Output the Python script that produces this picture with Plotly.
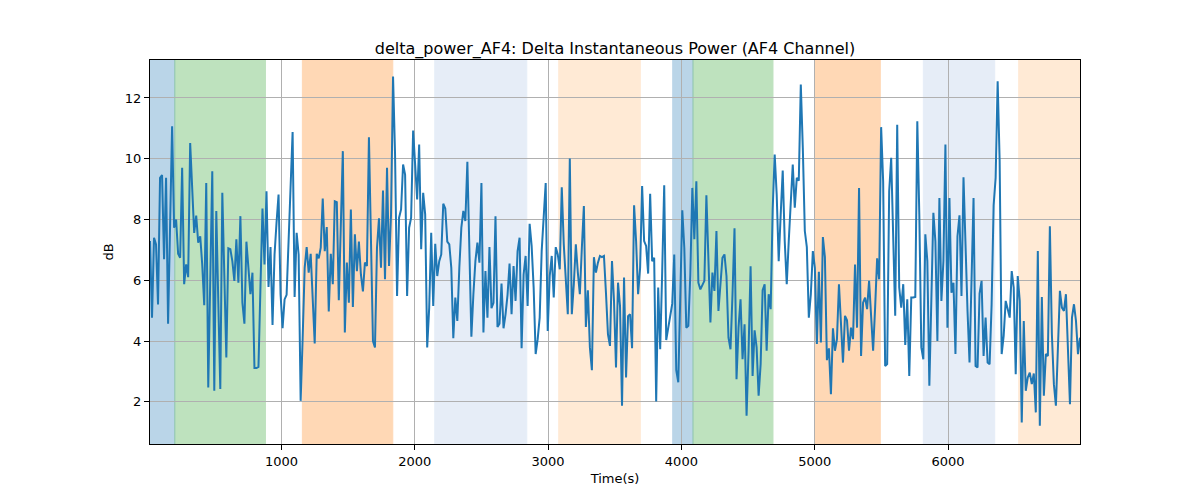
import numpy as np
import plotly.graph_objects as go

title = "delta_power_AF4: Delta Instantaneous Power (AF4 Channel)"
t_start, t_end = 14, 6990

values = [
    # segment 1
    7.29, 4.77, 7.4, 7.18, 5.2, 9.37, 9.46, 6.69, 9.37, 4.57, 7.8, 11.07, 7.73, 8.0, 6.87, 6.74, 9.7, 5.87,
    6.52, 6.1, 10.52, 9.0, 7.56, 8.13, 7.24, 7.45, 6.52, 5.18, 9.2, 2.47, 6.0, 9.59, 2.36, 8.28, 5.3, 2.42,
    # segment 2
    8.88, 6.0, 3.46, 7.05, 7.02, 6.63, 5.98, 7.35, 5.92, 8.11, 5.26, 4.57, 7.27, 6.41, 5.54, 6.25, 3.11, 3.11,
    3.15, 5.8, 8.36, 6.52, 8.93, 5.78, 7.09, 4.53, 6.85, 7.9, 8.82, 5.54, 4.42, 5.37, 5.52, 7.3, 9.1, 10.88,
    5.45, 7.56, 6.85,
    # segment 3
    2.03, 4.11, 6.41, 7.09, 6.25, 6.87, 5.54, 3.92, 6.87, 6.72, 7.07, 8.69, 6.96, 7.75, 4.97, 6.87, 5.87, 8.6,
    8.57, 5.34, 7.8, 10.25, 4.28, 6.58, 5.26, 8.33, 5.12, 7.51, 6.3, 7.27, 6.19, 5.63, 6.58, 6.47, 10.71, 7.73,
    4.0, 3.79, 7.07,
    # segment 4
    8.04, 6.41, 8.95, 6.03, 9.7, 6.47, 8.17, 12.71, 10.14, 5.48, 8.06, 8.33, 9.81, 9.48, 5.48, 7.73, 8.06, 10.93,
    9.81, 8.66, 10.47, 7.02, 8.88, 8.17, 3.79, 5.1, 7.56, 5.15, 7.2, 6.14, 6.63, 6.85, 8.52, 8.36, 7.27, 7.18,
    6.41, 4.09, 5.43,
    # segment 5
    4.66, 6.41, 7.73, 8.28, 7.95, 9.9, 6.74, 4.14, 5.54, 6.63, 7.24, 6.58, 9.2, 4.28, 6.3, 4.77, 7.09, 5.08,
    5.26, 8.11, 4.46, 4.57, 5.89, 4.42, 4.88, 5.52, 6.55, 4.88, 6.47, 5.32, 6.96, 7.4, 3.76, 6.19, 6.8, 5.15,
    7.86, 7.13, 5.76,
    # segment 6
    3.57, 4.06, 4.77, 6.96, 7.95, 9.2, 4.33, 6.14, 6.8, 5.43, 7.09, 6.85, 6.36, 9.06, 7.18, 5.98, 4.88, 10.01,
    4.88, 5.87, 7.18, 6.25, 5.54, 7.07, 8.44, 4.46, 5.67, 3.79, 3.04, 6.76, 6.25, 6.58, 6.8, 6.76, 6.8, 5.59,
    4.22, 3.84, 6.63,
    # segment 7
    5.32, 3.13, 5.92, 5.15, 1.87, 6.09, 2.8, 4.82, 4.88, 3.76, 8.47, 7.29, 5.54, 6.41, 9.1, 7.29, 7.13, 6.22,
    8.85, 6.63, 6.74, 2.01, 5.76, 3.73, 6.3, 9.13, 4.03, 4.44, 4.72, 5.23, 6.85, 3.04, 2.64, 5.54, 8.3, 7.07,
    4.44, 4.5, 6.19,
    # segment 8
    9.04, 7.35, 9.26, 5.92, 5.7, 5.87, 5.98, 8.8, 6.96, 4.61, 6.25, 5.65, 7.62, 4.99, 5.87, 6.74, 6.85, 6.14,
    4.11, 3.73, 5.54, 7.71, 2.74, 4.44, 5.37, 3.4, 4.55, 1.54, 3.68, 6.46, 2.85, 4.35, 3.79, 2.2, 3.24, 5.67,
    5.87, 3.68, 5.54,
    # segment 9
    5.05, 8.33, 10.14, 8.82, 6.63, 8.17, 9.61, 7.29, 5.87, 7.29, 8.6, 9.81, 8.39, 9.37, 9.28, 12.44, 10.36, 7.62,
    7.09, 4.77, 5.54, 6.96, 6.41, 3.9, 6.28, 3.95, 7.42, 6.76, 3.37, 3.76, 2.25, 4.42, 3.68, 4.06, 5.87, 4.66,
    3.29, 4.83, 4.68,
    # segment 10
    3.68, 4.44, 4.06, 6.52, 4.44, 9.04, 3.51, 5.26, 5.43, 5.05, 5.98, 4.99, 3.68, 5.1, 6.72, 6.03, 11.04, 9.26,
    3.18, 3.24, 8.93, 10.03, 6.85, 4.83, 11.12, 5.76, 5.1, 5.87, 3.87, 5.37, 2.85, 5.43, 5.43, 5.45, 11.23, 8.17,
    3.79, 3.4, 7.51,
    # segment 11
    6.63, 2.53, 5.54, 8.22, 7.29, 4.0, 8.71, 5.32, 6.63, 10.47, 4.44, 8.71, 5.59, 5.92, 3.57, 7.45, 8.14, 5.48,
    9.39, 6.74, 4.99, 3.29, 5.98, 8.71, 3.18, 3.13, 5.56, 5.98, 3.51, 4.77, 3.29, 3.24, 5.21, 8.47, 9.37, 12.55,
    9.92, 3.57, 4.17,
    # segment 12
    5.32, 5.05, 4.77, 6.3, 5.76, 2.91, 6.14, 5.32, 1.32, 4.66, 2.36, 2.8, 2.96, 2.58, 2.93, 1.65, 6.96, 1.21,
    5.45, 2.2, 3.57, 3.51, 7.78, 4.22, 2.58, 1.87, 3.79, 5.65, 5.1, 4.99, 5.54, 3.9, 1.92, 4.77, 5.21, 4.66,
    3.57, 4.11,
]
times = np.linspace(t_start, t_end, len(values))

# shaded intervals: (start, end, color, alpha)
span_starts = [14, 200, 1157, 2150, 3080, 3935, 4087, 5000, 5815, 6530]
span_ends = [200, 880, 1835, 2840, 3692, 4087, 4687, 5492, 6350, 6990]
span_colors = ["#1f77b4", "#2ca02c", "#ff7f0e", "#aec7e8", "#ffbb78",
               "#1f77b4", "#2ca02c", "#ff7f0e", "#aec7e8", "#ffbb78"]
span_alphas = [0.3, 0.3, 0.3, 0.3, 0.3, 0.3, 0.3, 0.3, 0.3, 0.3]

x_ticks = [1000, 2000, 3000, 4000, 5000, 6000]
y_ticks = [2, 4, 6, 8, 10, 12]

fig = go.Figure()
fig.add_trace(go.Scatter(x=times, y=values, mode="lines",
                         line=dict(color="#1f77b4", width=2), showlegend=False))

for s, e, c, a in zip(span_starts, span_ends, span_colors, span_alphas):
    fig.add_vrect(x0=s, x1=e, fillcolor=c, opacity=a, layer="below",
                  line=dict(color=c, width=1))

axis_common = dict(showgrid=True, gridcolor="#b0b0b0", gridwidth=1,
                   showline=True, linecolor="black", linewidth=1, mirror=True,
                   ticks="outside", ticklen=5, tickcolor="black",
                   zeroline=False, tickfont=dict(size=13, color="black"))

fig.update_layout(
    width=1200, height=500,
    margin=dict(l=142, r=128, t=52, b=64),
    paper_bgcolor="white", plot_bgcolor="rgba(0,0,0,0)",
    font=dict(family="DejaVu Sans", color="black"),
    title=dict(text=title, x=0.5, xanchor="center", xref="paper",
               y=1, yref="paper", yanchor="bottom", pad=dict(b=6),
               font=dict(size=16)),
    xaxis=dict(range=[t_start, t_end], tickvals=x_ticks,
               title=dict(text="Time(s)", font=dict(size=13), standoff=6), **axis_common),
    yaxis=dict(range=[0.61, 13.25], tickvals=y_ticks,
               title=dict(text="dB", font=dict(size=13), standoff=8), **axis_common),
)

fig.write_html("out.html")
